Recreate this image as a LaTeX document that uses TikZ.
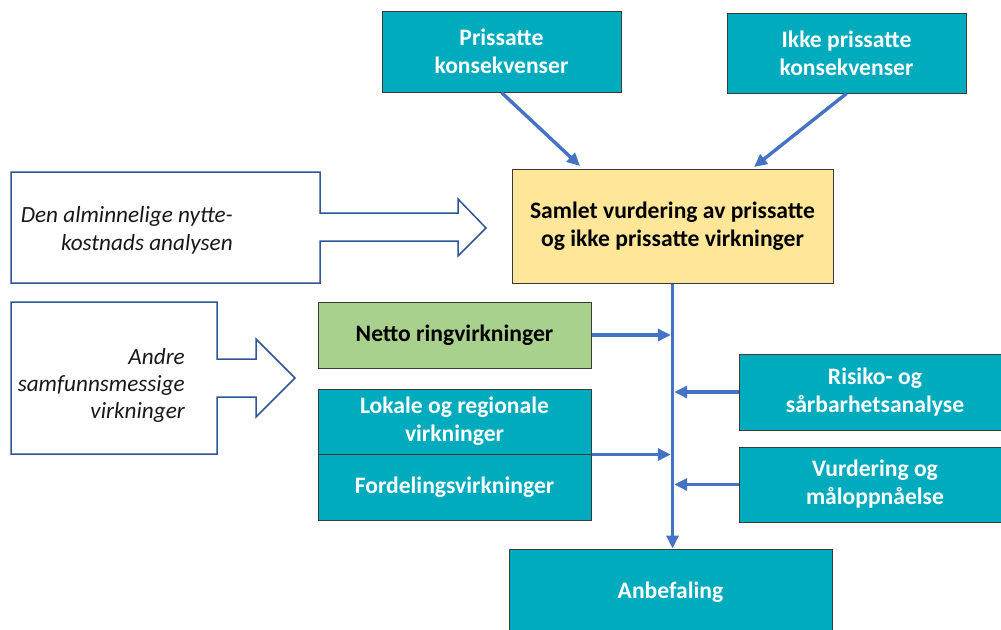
\documentclass[tikz,border=0pt]{standalone}
\usepackage{fontspec}
\setmainfont{Carlito}
\usetikzlibrary{arrows.meta,calc}
\definecolor{teal1}{HTML}{00ABBD}
\definecolor{green1}{HTML}{A9D18E}
\definecolor{yellow1}{HTML}{FFE699}
\definecolor{arrowblue}{HTML}{4472C4}
\definecolor{outlineblue}{HTML}{2F5597}
\definecolor{border}{HTML}{3A3A3A}
\tikzset{
  basebox/.style={draw=border, line width=1pt, inner sep=0pt, align=center, font=\fontsize{23.6}{28}\selectfont\bfseries},
  tealbox/.style={basebox, fill=teal1, text=white},
  greenbox/.style={basebox, fill=green1, text=black},
  yellowbox/.style={basebox, fill=yellow1, text=black},
  conn/.style={draw=arrowblue, line width=3.4pt, -{Triangle[length=13pt,width=12pt]}},
  bigarrow/.style={draw=outlineblue, line width=1.5pt, fill=white, line join=miter},
  itext/.style={font=\fontsize{23.2}{28}\selectfont\itshape, anchor=base east, inner sep=0pt, text=black!90},
}
\begin{document}
\begin{tikzpicture}[x=1pt, y=-1pt]
\useasboundingbox (0,0) rectangle (1001,629);
\clip (0,0) rectangle (1001,629);

% big outline arrows
\draw[bigarrow] (11,172) -- (320,172) -- (320,213) -- (458,213) -- (458,199) -- (486,228)
  -- (458,256) -- (458,241) -- (320,241) -- (320,283) -- (11,283) -- cycle;
\draw[bigarrow] (11,302) -- (217,302) -- (217,359) -- (256,359) -- (256,339) -- (295,378)
  -- (256,417) -- (256,397) -- (217,397) -- (217,454) -- (11,454) -- cycle;

\node[itext] (t1a) at (233,222) {Den alminnelige nytte-};
\node[itext] (t1b) at (233,250) {kostnads analysen};
\node[itext] (t2a) at (185,364) {Andre};
\node[itext] (t2b) at (185,391) {samfunnsmessige};
\node[itext] (t2c) at (185,418) {virkninger};

% boxes
\node[tealbox, minimum width=239pt, minimum height=81pt] (P) at (501.5,51.5) {Prissatte\\konsekvenser};
\node[tealbox, minimum width=239pt, minimum height=80pt] (I) at (846.5,53) {Ikke prissatte\\konsekvenser};
\node[yellowbox, minimum width=321pt, minimum height=114pt] (Y) at (672.5,226) {Samlet vurdering av prissatte\\og ikke prissatte virkninger};
\node[greenbox, minimum width=273pt, minimum height=66pt] (G) at (454.5,335) {Netto ringvirkninger};
\node[tealbox, minimum width=273pt, minimum height=65pt] (L) at (454.5,421.5) {Lokale og regionale\\virkninger};
\node[tealbox, minimum width=273pt, minimum height=66pt] (F) at (454.5,487) {Fordelingsvirkninger};
\node[tealbox, minimum width=272pt, minimum height=76pt] (R) at (875,392) {Risiko- og\\sårbarhetsanalyse};
\node[tealbox, minimum width=272pt, minimum height=75pt] (V) at (875,484.5) {Vurdering og\\måloppnåelse};
\node[tealbox, minimum width=323pt, minimum height=87pt] (A) at (670.5,592.5) {Anbefaling};

% connectors
\coordinate (Yin1) at (580,166);
\coordinate (Yin2) at (754,167);
\draw[conn] (P.south) -- (Yin1);
\draw[conn] (I.south) -- (Yin2);
\draw[conn] (Y.south) -- (Y.south |- A.north);
\draw[conn] (G.east) -- ($(G.east -| Y.south)+(-1.7,0)$);
\draw[conn] (L.south east) -- ($(L.south east -| Y.south)+(-1.7,0)$);
\draw[conn] (R.west) -- ($(R.west -| Y.south)+(1.7,0)$);
\draw[conn] (V.west) -- ($(V.west -| Y.south)+(1.7,0)$);
\end{tikzpicture}
\end{document}
